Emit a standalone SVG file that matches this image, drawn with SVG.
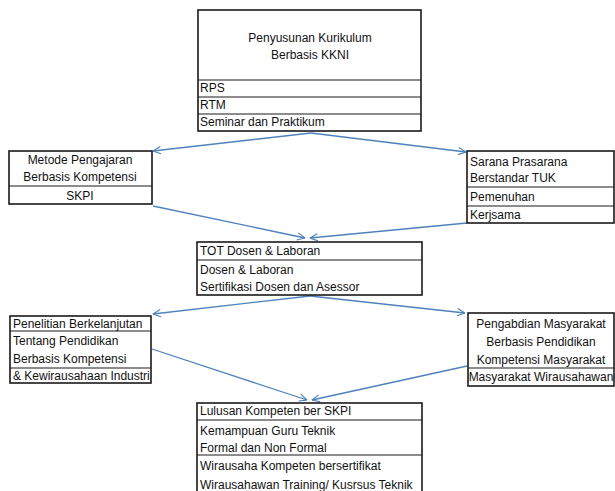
<svg xmlns="http://www.w3.org/2000/svg" width="615" height="491" viewBox="0 0 615 491">
<defs>
<style>
.box{fill:#fff;stroke:#1a1a1a;stroke-width:1.6}
.div{stroke:#1a1a1a;stroke-width:1.2}
text{font-family:"Liberation Sans",Arial,sans-serif;font-size:12px;fill:#111}
.c{text-anchor:middle}
.con{stroke:#4f81bd;stroke-width:1.3;fill:none;marker-end:url(#ah)}
</style>
<marker id="ah" viewBox="0 0 10 10" refX="9.5" refY="5" markerWidth="9" markerHeight="9" markerUnits="userSpaceOnUse" orient="auto">
<path d="M1,1 L9.5,5 L1,9" fill="none" stroke="#4f81bd" stroke-width="1.3"/>
</marker>
</defs>
<rect width="615" height="491" fill="#fff"/>
<g id="connectors">
<line class="con" x1="311" y1="133" x2="153" y2="151"/>
<line class="con" x1="311" y1="133" x2="466" y2="152"/>
<line class="con" x1="153" y1="206" x2="305" y2="238"/>
<line class="con" x1="467" y1="223" x2="310" y2="238"/>
<line class="con" x1="310" y1="296" x2="153" y2="314"/>
<line class="con" x1="310" y1="296" x2="465" y2="313"/>
<line class="con" x1="152" y1="349" x2="307" y2="400"/>
<line class="con" x1="467" y1="366" x2="312" y2="400"/>
</g>
<g id="kurikulum">
<rect class="box" x="198" y="10" width="223" height="121"/>
<line class="div" x1="198" y1="80" x2="421" y2="80"/>
<line class="div" x1="198" y1="97" x2="421" y2="97"/>
<line class="div" x1="198" y1="114" x2="421" y2="114"/>
<text class="c" x="310" y="42">Penyusunan Kurikulum</text>
<text class="c" x="310" y="59">Berbasis KKNI</text>
<text x="200" y="92">RPS</text>
<text x="200" y="109">RTM</text>
<text x="200" y="126">Seminar dan Praktikum</text>
</g>
<g id="metode">
<rect class="box" x="9" y="151" width="143" height="53"/>
<line class="div" x1="9" y1="186" x2="152" y2="186"/>
<text class="c" x="80" y="164">Metode Pengajaran</text>
<text class="c" x="80" y="181">Berbasis Kompetensi</text>
<text class="c" x="80" y="200">SKPI</text>
</g>
<g id="sarana">
<rect class="box" x="467" y="151" width="147" height="72"/>
<line class="div" x1="467" y1="187" x2="614" y2="187"/>
<line class="div" x1="467" y1="206" x2="614" y2="206"/>
<text x="470" y="166">Sarana Prasarana</text>
<text x="470" y="182">Berstandar TUK</text>
<text x="470" y="201">Pemenuhan</text>
<text x="470" y="219">Kerjsama</text>
</g>
<g id="tot">
<rect class="box" x="197" y="242" width="225" height="53"/>
<line class="div" x1="197" y1="260" x2="422" y2="260"/>
<text x="200" y="255">TOT Dosen &amp; Laboran</text>
<text x="200" y="274">Dosen &amp; Laboran</text>
<text x="200" y="291">Sertifikasi Dosen dan Asessor</text>
</g>
<g id="penelitian">
<rect class="box" x="10" y="316" width="141" height="67"/>
<line class="div" x1="10" y1="331" x2="151" y2="331"/>
<line class="div" x1="10" y1="368" x2="151" y2="368"/>
<text x="13" y="328">Penelitian Berkelanjutan</text>
<text x="13" y="345">Tentang Pendidikan</text>
<text x="13" y="363">Berbasis Kompetensi</text>
<text x="13" y="380">&amp; Kewirausahaan Industri</text>
</g>
<g id="pengabdian">
<rect class="box" x="468" y="313" width="146" height="73"/>
<line class="div" x1="468" y1="368" x2="614" y2="368"/>
<text class="c" x="541" y="328">Pengabdian Masyarakat</text>
<text class="c" x="541" y="346">Berbasis Pendidikan</text>
<text class="c" x="541" y="364">Kompetensi Masyarakat</text>
<text class="c" x="541" y="381">Masyarakat Wirausahawan</text>
</g>
<g id="lulusan">
<rect class="box" x="197" y="403" width="225" height="95"/>
<line class="div" x1="197" y1="420" x2="422" y2="420"/>
<line class="div" x1="197" y1="455" x2="422" y2="455"/>
<text x="200" y="415">Lulusan Kompeten ber SKPI</text>
<text x="200" y="435">Kemampuan Guru Teknik</text>
<text x="200" y="452">Formal dan Non Formal</text>
<text x="200" y="470">Wirausaha Kompeten bersertifikat</text>
<text x="200" y="489">Wirausahawan Training/ Kusrsus Teknik</text>
</g>
</svg>
